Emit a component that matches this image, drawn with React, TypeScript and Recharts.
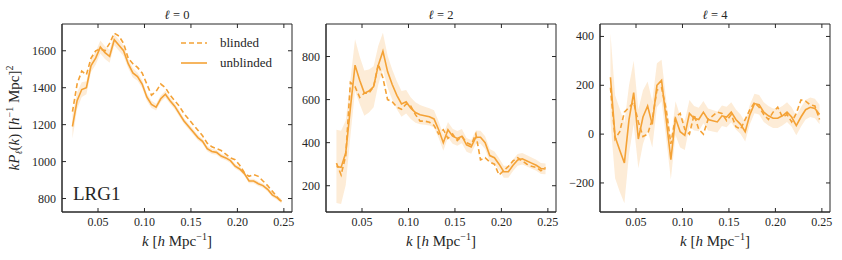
import { Area, ComposedChart, Line, ReferenceArea, XAxis, YAxis } from 'recharts';

const ORANGE = '#f4a236';
const INK = '#262626';
const FONT = '"Liberation Serif", "DejaVu Serif", serif';
const TXT = { fontFamily: FONT };

// wavenumber bins, h/Mpc
const K = [
  0.0225, 0.0275, 0.0325, 0.0375, 0.0425, 0.0475, 0.0525, 0.0575, 0.0625, 0.0675,
  0.0725, 0.0775, 0.0825, 0.0875, 0.0925, 0.0975, 0.1025, 0.1075, 0.1125, 0.1175,
  0.1225, 0.1275, 0.1325, 0.1375, 0.1425, 0.1475, 0.1525, 0.1575, 0.1625, 0.1675,
  0.1725, 0.1775, 0.1825, 0.1875, 0.1925, 0.1975, 0.2025, 0.2075, 0.2125, 0.2175,
  0.2225, 0.2275, 0.2325, 0.2375, 0.2425, 0.2475,
];

// monopole
const U0 = [
  1190, 1330, 1390, 1400, 1520, 1560, 1620, 1590, 1570, 1660,
  1630, 1600, 1530, 1480, 1460, 1420, 1350, 1310, 1295, 1340,
  1365, 1330, 1300, 1260, 1220, 1190, 1160, 1130, 1110, 1070,
  1055, 1050, 1030, 1020, 1005, 975, 960, 935, 895, 895,
  880, 870, 850, 820, 805, 785,
];
const B0 = [
  1270, 1420, 1490, 1470, 1560, 1600, 1610, 1600, 1640, 1695,
  1680, 1640, 1560, 1530, 1510, 1480, 1420, 1360, 1380, 1420,
  1400, 1360, 1330, 1300, 1260, 1230, 1200, 1170, 1140, 1100,
  1080, 1070, 1060, 1040, 1020, 1010, 980, 940, 920, 930,
  920, 895, 870, 840, 810, 780,
];
const E0 = [
  65, 45, 40, 35, 35, 35, 35, 35, 35, 30,
  30, 28, 25, 25, 22, 22, 20, 20, 18, 18,
  18, 17, 16, 16, 15, 15, 15, 14, 14, 14,
  14, 13, 13, 13, 13, 13, 12, 12, 12, 12,
  12, 12, 12, 12, 12, 12,
];

// quadrupole
const U2 = [
  290, 285, 353, 560, 760, 690, 630, 640, 660, 760,
  825, 730, 670, 620, 580, 590, 560, 540, 530, 525,
  520, 510, 460, 400, 460, 430, 420, 430, 390, 380,
  425, 425, 400, 340, 330, 300, 265, 265, 295, 320,
  325, 315, 305, 295, 280, 278,
];
const B2 = [
  305, 250, 340, 680, 660, 610, 630, 630, 660, 765,
  700, 600, 590, 565, 555, 580, 570, 530, 500, 500,
  495, 480, 440, 460, 420, 440, 410, 430, 400, 390,
  440, 320, 330, 310, 300, 250, 270, 290, 315, 330,
  315, 300, 290, 285, 270, 285,
];
const E2 = [
  170, 170, 150, 130, 120, 110, 105, 100, 95, 90,
  85, 75, 70, 65, 60, 55, 50, 48, 45, 42,
  40, 40, 38, 38, 36, 35, 34, 33, 32, 32,
  31, 30, 30, 30, 29, 28, 28, 28, 27, 27,
  27, 26, 26, 26, 25, 25,
];

// hexadecapole
const U4 = [
  233, -11, -66, -118, 60, 170, -20, 70, 115, 40,
  200, 220, 60, -105, 65, 10, -5, 85, 65, 60,
  90, 60, 55, 50, 75, 70, 90, 60, 40, 10,
  80, 125, 120, 90, 75, 65, 65, 75, 90, 70,
  35, 70, 100, 110, 105, 80,
];
const B4 = [
  190, -20, 10, 90, 110, 130, 50, -10, 0, 60,
  180, 190, 100, -40, 70, 85, 20, 0, 80, 20,
  0, 60, 75, 90, 85, 55, 80, 30, 20, 60,
  100, 130, 110, 80, 60, 90, 110, 70, 80, 50,
  85, 140, 135, 120, 115, 60,
];
const E4 = [
  180, 170, 170, 165, 140, 130, 120, 110, 100, 95,
  90, 85, 80, 80, 70, 65, 60, 55, 50, 48,
  46, 45, 44, 43, 42, 42, 41, 41, 40, 40,
  40, 40, 40, 40, 40, 40, 40, 40, 40, 40,
  40, 40, 40, 40, 40, 40,
];

const X_TICKS = [0.05, 0.1, 0.15, 0.2, 0.25];
const X_DOMAIN = [0.01125, 0.25875];
const Y0_TICKS = [800, 1000, 1200, 1400, 1600];
const Y2_TICKS = [200, 400, 600, 800];
const Y4_TICKS = [-200, 0, 200, 400];

const CHART_W = 300;
const CHART_H = 260;
const TOP = 24;
const AXIS_H = 48;
const YAXIS_W = 62;
const RIGHT = 8;
const PLOT_W = CHART_W - YAXIS_W - RIGHT;
const PLOT_H = CHART_H - TOP - AXIS_H;
const TICK = 4;

function XTick(props: any) {
  const { x, y, payload } = props;
  return (
    <g>
      <line x1={x} x2={x} y1={y} y2={y - TICK} stroke={INK} />
      <line x1={x} x2={x} y1={y - PLOT_H} y2={y - PLOT_H + TICK} stroke={INK} />
      <text x={x} y={y + 14} textAnchor="middle" fontSize={12} fill={INK} style={TXT}>
        {Number(payload.value).toFixed(2)}
      </text>
    </g>
  );
}

function YTick(props: any) {
  const { x, y, payload } = props;
  const v = Number(payload.value);
  return (
    <g>
      <line x1={x} x2={x + TICK} y1={y} y2={y} stroke={INK} />
      <line x1={x + PLOT_W} x2={x + PLOT_W - TICK} y1={y} y2={y} stroke={INK} />
      <text x={x - 6} y={y + 4} textAnchor="end" fontSize={12} fill={INK} style={TXT}>
        {v < 0 ? `\u2212${Math.abs(v)}` : v}
      </text>
    </g>
  );
}

type PanelProps = {
  left: number;
  u: number[];
  b: number[];
  e: number[];
  yTicks: number[];
  yDomain: number[];
};

function Panel({ left, u, b, e, yTicks, yDomain }: PanelProps) {
  const rows = K.map((k, i) => ({ k, u: u[i], b: b[i], band: [u[i] - e[i], u[i] + e[i]] }));
  return (
    <div style={{ position: 'absolute', left, top: 0 }}>
      <ComposedChart
        width={CHART_W}
        height={CHART_H}
        data={rows}
        margin={{ top: TOP, right: RIGHT, bottom: 0, left: 0 }}
      >
        <XAxis
          dataKey="k"
          type="number"
          domain={X_DOMAIN}
          ticks={X_TICKS}
          allowDataOverflow
          interval={0}
          height={AXIS_H}
          tickSize={0}
          tickMargin={0}
          tickLine={false}
          axisLine={{ stroke: INK }}
          tick={(p: any) => <XTick {...p} />}
        />
        <YAxis
          type="number"
          domain={yDomain}
          ticks={yTicks}
          allowDataOverflow
          interval={0}
          width={YAXIS_W}
          tickSize={0}
          tickMargin={0}
          tickLine={false}
          axisLine={{ stroke: INK }}
          tick={(p: any) => <YTick {...p} />}
        />
        <Area
          dataKey="band"
          type="linear"
          fill={ORANGE}
          fillOpacity={0.2}
          stroke="none"
          isAnimationActive={false}
        />
        <Line
          dataKey="b"
          type="linear"
          stroke={ORANGE}
          strokeWidth={1.6}
          strokeDasharray="5 3"
          dot={false}
          isAnimationActive={false}
        />
        <Line
          dataKey="u"
          type="linear"
          stroke={ORANGE}
          strokeWidth={1.6}
          dot={false}
          isAnimationActive={false}
        />
        <ReferenceArea
          x1={X_DOMAIN[0]}
          x2={X_DOMAIN[1]}
          y1={yDomain[0]}
          y2={yDomain[1]}
          fill="none"
          fillOpacity={0}
          stroke={INK}
          strokeWidth={1}
        />
      </ComposedChart>
    </div>
  );
}

const PANEL_LEFTS = [0, 264, 538];
const TITLES = ['0', '2', '4'];

export default function App() {
  const centers = PANEL_LEFTS.map((l) => l + YAXIS_W + PLOT_W / 2);
  return (
    <div style={{ position: 'absolute', left: 0, top: 0, width: 842, height: 260, background: '#fff' }}>
      <Panel left={PANEL_LEFTS[0]} u={U0} b={B0} e={E0} yTicks={Y0_TICKS} yDomain={[727, 1745]} />
      <Panel left={PANEL_LEFTS[1]} u={U2} b={B2} e={E2} yTicks={Y2_TICKS} yDomain={[78, 951]} />
      <Panel left={PANEL_LEFTS[2]} u={U4} b={B4} e={E4} yTicks={Y4_TICKS} yDomain={[-319, 451]} />
      <svg
        width={842}
        height={260}
        style={{ position: 'absolute', left: 0, top: 0, pointerEvents: 'none', fontFamily: FONT }}
        fill={INK}
      >
        {centers.map((cx, i) => (
          <g key={i}>
            <text x={cx} y={19} textAnchor="middle" fontSize={12.5} style={TXT}>
              <tspan fontStyle="italic">ℓ</tspan> = {TITLES[i]}
            </text>
            <text x={cx} y={246} textAnchor="middle" fontSize={15} style={TXT}>
              <tspan fontStyle="italic">k</tspan> [<tspan fontStyle="italic">h</tspan> Mpc
              <tspan fontSize={10} dy={-6}>−1</tspan>
              <tspan dy={6}>]</tspan>
            </text>
          </g>
        ))}
        <text transform="translate(19,118) rotate(-90)" textAnchor="middle" fontSize={15} style={TXT}>
          <tspan fontStyle="italic">kP</tspan>
          <tspan fontStyle="italic" fontSize={10} dy={3}>ℓ</tspan>
          <tspan dy={-3}>(</tspan>
          <tspan fontStyle="italic">k</tspan>) [<tspan fontStyle="italic">h</tspan>
          <tspan fontSize={10} dy={-6}>−1</tspan>
          <tspan dy={6}> Mpc]</tspan>
          <tspan fontSize={10} dy={-6}>2</tspan>
        </text>
        <line x1={181} x2={207} y1={43} y2={43} stroke={ORANGE} strokeWidth={1.6} strokeDasharray="5 3" />
        <text x={220} y={47} fontSize={13} style={TXT}>blinded</text>
        <line x1={181} x2={207} y1={63} y2={63} stroke={ORANGE} strokeWidth={1.6} />
        <text x={220} y={67} fontSize={13} style={TXT}>unblinded</text>
        <text x={73} y={200} fontSize={19} style={TXT}>LRG1</text>
      </svg>
    </div>
  );
}
